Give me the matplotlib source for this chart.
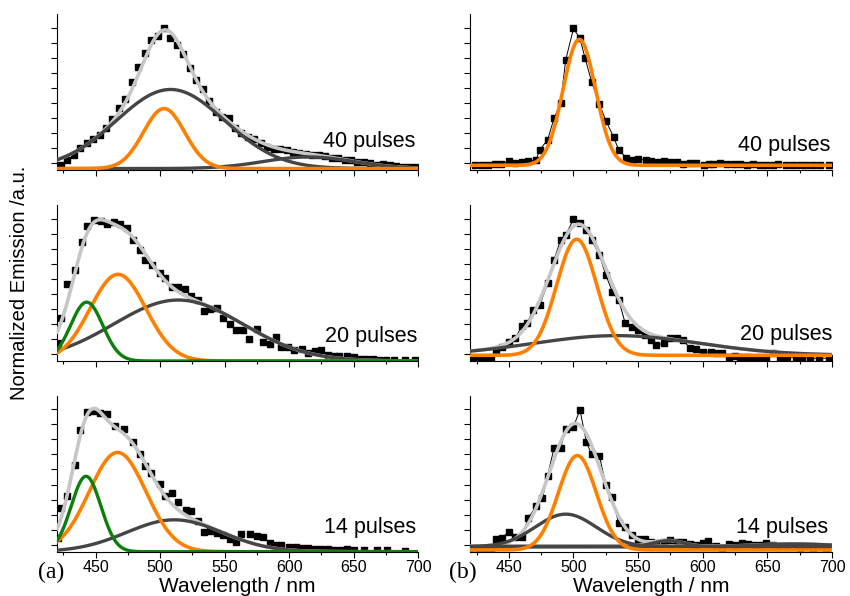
import numpy as np
import matplotlib
matplotlib.use('Agg')
import matplotlib.pyplot as plt
from matplotlib.ticker import MultipleLocator

# measured spectra (wavelength nm, normalized emission)
tl_wl = [423, 428, 433, 438, 443, 448, 453, 458, 463, 468, 473, 478, 483, 488, 493, 498, 503, 508, 513, 518,
         523, 528, 533, 538, 543, 548, 553, 558, 563, 568, 573, 578, 583, 588, 593, 598, 603, 608, 613, 618,
         623, 628, 633, 638, 643, 648, 653, 658, 663, 668, 673, 678, 683, 688, 693, 698]
tl_int = [0.04, 0.075, 0.11, 0.16, 0.19, 0.22, 0.25, 0.30, 0.36, 0.44, 0.50, 0.62, 0.73, 0.83, 0.92, 0.945, 1.0, 0.93, 0.885, 0.82,
          0.72, 0.64, 0.575, 0.49, 0.41, 0.375, 0.37, 0.295, 0.26, 0.235, 0.22, 0.19, 0.165, 0.15, 0.15, 0.14, 0.13, 0.125, 0.115, 0.11,
          0.105, 0.10, 0.09, 0.085, 0.075, 0.07, 0.06, 0.055, 0.05, 0.04, 0.045, 0.035, 0.03, 0.025, 0.02, 0.02]

ml_wl = [421, 423, 428, 434, 439, 443, 449, 454, 459, 464, 469, 474, 479, 484, 488, 494, 500, 504, 509, 514,
         519, 524, 529, 534, 539, 544, 549, 554, 559, 564, 569, 575, 580, 585, 590, 594, 599, 604, 610, 615,
         620, 625, 630, 635, 639, 645, 650, 655, 660, 665, 670, 675, 681, 690, 698]
ml_int = [0.13, 0.30, 0.54, 0.64, 0.84, 0.95, 0.995, 0.99, 0.967, 0.983, 0.965, 0.94, 0.85, 0.78, 0.71, 0.677, 0.618, 0.583, 0.524, 0.52,
          0.505, 0.46, 0.43, 0.354, 0.37, 0.377, 0.30, 0.264, 0.222, 0.217, 0.158, 0.229, 0.134, 0.12, 0.17, 0.10, 0.10, 0.075, 0.087, 0.057,
          0.07, 0.075, 0.04, 0.035, 0.033, 0.033, 0.03, 0.017, 0.015, 0.012, 0.01, 0.01, 0.005, 0.005, 0.005]

bl_wl = [421, 423, 428, 434, 438, 443, 449, 453, 459, 465, 472, 479, 484, 488, 493, 500, 504, 509, 514, 520,
         524, 529, 534, 539, 544, 549, 554, 559, 563, 570, 575, 580, 585, 590, 594, 600, 605, 610, 615, 620,
         625, 630, 635, 640, 645, 650, 658, 668, 676, 690]
bl_int = [0.10, 0.307, 0.395, 0.615, 0.858, 0.986, 0.993, 0.98, 0.97, 0.887, 0.868, 0.773, 0.69, 0.607, 0.556, 0.478, 0.395, 0.414, 0.348, 0.291,
          0.284, 0.22, 0.142, 0.149, 0.13, 0.118, 0.09, 0.071, 0.125, 0.125, 0.113, 0.106, 0.059, 0.047, 0.045, 0.035, 0.03, 0.024, 0.024, 0.02,
          0.017, 0.017, 0.015, 0.015, 0.017, 0.012, 0.012, 0.012, 0.012, 0.007]

tr_wl = [424, 429, 434, 439, 444, 450, 455, 460, 465, 471, 474, 480, 485, 490, 494, 500, 505, 509, 514, 520,
         525, 531, 535, 541, 545, 550, 556, 560, 565, 570, 575, 580, 585, 590, 595, 601, 605, 608, 613, 619,
         624, 629, 634, 639, 644, 649, 654, 658, 664, 670, 675, 680, 685, 691, 698]
tr_int = [0.035, 0.04, 0.04, 0.047, 0.047, 0.063, 0.052, 0.059, 0.063, 0.075, 0.145, 0.215, 0.368, 0.473, 0.778, 1.0, 0.93, 0.789, 0.625, 0.468,
          0.351, 0.234, 0.145, 0.087, 0.07, 0.082, 0.07, 0.065, 0.059, 0.063, 0.059, 0.056, 0.044, 0.05, 0.052, 0.035, 0.045, 0.047, 0.052, 0.047,
          0.045, 0.042, 0.04, 0.042, 0.038, 0.035, 0.04, 0.042, 0.038, 0.035, 0.035, 0.035, 0.035, 0.035, 0.035]

mr_wl = [422, 426, 431, 436, 440, 445, 450, 455, 460, 464, 469, 474, 480, 485, 490, 494, 500, 505, 510, 514,
         520, 525, 530, 535, 540, 545, 550, 555, 560, 564, 570, 575, 580, 585, 590, 595, 600, 606, 610, 615,
         620, 625, 629, 634, 639, 644, 649, 654, 660, 665, 672, 677, 683, 690, 698]
mr_int = [0.012, 0.019, 0.019, 0.019, 0.07, 0.101, 0.136, 0.16, 0.247, 0.266, 0.36, 0.395, 0.548, 0.713, 0.854, 0.889, 1.0, 0.972, 0.925, 0.854,
          0.748, 0.607, 0.489, 0.431, 0.266, 0.242, 0.219, 0.184, 0.15, 0.113, 0.125, 0.165, 0.16, 0.148, 0.089, 0.082, 0.066, 0.061, 0.058, 0.054,
          0.031, 0.035, 0.031, 0.025, 0.012, 0.02, 0.012, 0.054, 0.019, 0.031, 0.024, 0.022, 0.019, 0.019, 0.02]

br_wl = [420, 427, 431, 436, 440, 445, 450, 455, 460, 465, 471, 476, 480, 485, 490, 494, 500, 505, 510, 514,
         520, 525, 530, 535, 540, 545, 550, 555, 560, 564, 570, 575, 580, 585, 590, 595, 600, 604, 610, 615,
         620, 625, 630, 635, 640, 645, 649, 654, 658, 665, 675, 685, 695]
br_int = [0.017, 0.017, 0.02, 0.017, 0.087, 0.1, 0.142, 0.106, 0.106, 0.236, 0.319, 0.378, 0.537, 0.733, 0.733, 0.863, 0.882, 1.0, 0.773, 0.686,
          0.678, 0.473, 0.385, 0.2, 0.177, 0.12, 0.087, 0.087, 0.07, 0.059, 0.07, 0.083, 0.071, 0.071, 0.054, 0.047, 0.06, 0.078, 0.04, 0.017,
          0.054, 0.045, 0.059, 0.054, 0.045, 0.05, 0.059, 0.045, 0.035, 0.03, 0.025, 0.02, 0.02]

# fitted gaussian components: (centre nm, sigma nm, amplitude, baseline)
tl_dark = [(508, 42, 0.558, 0.012), (615, 35, 0.082, 0.012)]
tl_orange = [(503, 16, 0.423, 0.012)]
tl_green = []
ml_dark = [(514, 50, 0.43, 0.0)]
ml_orange = [(467.3, 21.6, 0.611, 0.0)]
ml_green = [(443, 12.5, 0.415, 0.0)]
bl_dark = [(511, 37, 0.225, 0.0)]
bl_orange = [(467, 22, 0.70, 0.0)]
bl_green = [(442.5, 11.5, 0.532, 0.0)]
tr_dark = []
tr_orange = [(504.5, 12.5, 0.888, 0.035)]
tr_green = []
mr_dark = [(533.6, 64.6, 0.139, 0.04)]
mr_orange = [(502.5, 15.5, 0.819, 0.04)]
mr_green = []
br_dark = [(494, 23.5, 0.23, 0.035), (573.5, 12, 0.043, 0.035), (670, 30, 0.02, 0.035)]
br_orange = [(503, 14.7, 0.666, 0.012)]
br_green = []

# cumulative fit curves (light grey); None -> sum of the drawn components
tl_fit = None
ml_fit = None
bl_fit = None
mr_fit = [(503.5, 21, 0.80), (533.6, 64.6, 0.139)]
br_fit = [(501.5, 20, 0.87), (573.5, 12, 0.043), (670, 30, 0.02)]

labels = ['40 pulses', '20 pulses', '14 pulses']

ORANGE = '#FF8000'
GREEN = '#0B7F0B'
DARK = '#454545'
LIGHT = '#C6C6C6'

plt.rcParams['font.family'] = ['Liberation Sans', 'DejaVu Sans']

fig = plt.figure(figsize=(8.5, 5.96), dpi=100)

xs = np.linspace(420, 700, 700)


def gauss(c, s, a):
    return a * np.exp(-(xs - c) ** 2 / (2 * s ** 2))


def panel(rect, wl, inten, dark, orange, green, fit, label, lab_pos, bottom, sumbase, show_sum, joined, flat=None):
    ax = fig.add_axes(rect)
    ax.plot(wl, inten, ls='-' if joined else 'none', color='black', lw=0.7,
            marker='s', ms=4, mfc='black', mec='black', zorder=2)
    if show_sum:
        parts = fit if fit is not None else [c[:3] for c in dark + orange + green]
        tot = np.full_like(xs, sumbase)
        for c in parts:
            tot = tot + gauss(*c)
        ax.plot(xs, tot, color=LIGHT, lw=2.6, zorder=3)
    if flat is not None:
        ax.plot([420, 700], [flat, flat], color='#8E8E8E', lw=2.6, zorder=3)
    for c in dark:
        ax.plot(xs, c[3] + gauss(*c[:3]), color=DARK, lw=2.4, zorder=4)
    for c in orange:
        ax.plot(xs, c[3] + gauss(*c[:3]), color=ORANGE, lw=2.6, zorder=4)
    for c in green:
        ax.plot(xs, c[3] + gauss(*c[:3]), color=GREEN, lw=2.4, zorder=5)
    ax.set_xlim(420, 700)
    ax.set_ylim(0, 1.1)
    ax.spines['top'].set_visible(False)
    ax.spines['right'].set_visible(False)
    ax.set_xticks([450, 500, 550, 600, 650, 700])
    ax.xaxis.set_minor_locator(MultipleLocator(25))
    ax.set_yticks(np.arange(0.05, 1.06, 0.106))
    ax.set_yticklabels([])
    ax.tick_params(axis='both', which='major', direction='out', length=4, width=0.8,
                   labelsize=11.5, pad=2)
    ax.tick_params(axis='both', which='minor', direction='out', length=2.5, width=0.8)
    if not bottom:
        ax.tick_params(axis='x', labelbottom=False)
    ax.text(lab_pos[0], lab_pos[1], label, transform=ax.transAxes,
            ha='right', va='baseline', fontsize=15.5)
    return ax


lx, lw_ = 0.0671, 0.4247
rx, rw = 0.553, 0.4259
bots = [0.7143, 0.3943, 0.0743]
h = 0.2617

panel([lx, bots[0], lw_, h], tl_wl, tl_int, tl_dark, tl_orange, tl_green, tl_fit, labels[0], (0.992, 0.151), False, 0.012, True, False)
panel([lx, bots[1], lw_, h], ml_wl, ml_int, ml_dark, ml_orange, ml_green, ml_fit, labels[1], (0.998, 0.122), False, 0.0, True, False)
panel([lx, bots[2], lw_, h], bl_wl, bl_int, bl_dark, bl_orange, bl_green, bl_fit, labels[2], (0.996, 0.122), True, 0.0, True, False)
panel([rx, bots[0], rw, h], tr_wl, tr_int, tr_dark, tr_orange, tr_green, None, labels[0], (0.994, 0.122), False, 0.035, False, True)
panel([rx, bots[1], rw, h], mr_wl, mr_int, mr_dark, mr_orange, mr_green, mr_fit, labels[1], (1.0, 0.135), False, 0.04, True, True)
panel([rx, bots[2], rw, h], br_wl, br_int, br_dark, br_orange, br_green, br_fit, labels[2], (0.99, 0.118), True, 0.035, True, True, flat=0.037)

fig.text(0.0235, 0.525, 'Normalized Emission /a.u.', rotation=90, ha='center', va='center', fontsize=14.5)
fig.text(lx + lw_ / 2, 0.0075, 'Wavelength / nm', ha='center', va='baseline', fontsize=15)
fig.text(rx + rw / 2, 0.0075, 'Wavelength / nm', ha='center', va='baseline', fontsize=15)
fig.text(51.5 / 850, 1 - 572 / 596, '(a)', ha='center', va='center', fontsize=17,
         family=['Liberation Serif', 'DejaVu Serif'])
fig.text(462.5 / 850, 1 - 572 / 596, '(b)', ha='center', va='center', fontsize=17,
         family=['Liberation Serif', 'DejaVu Serif'])

fig.savefig('out.png', dpi=100)
